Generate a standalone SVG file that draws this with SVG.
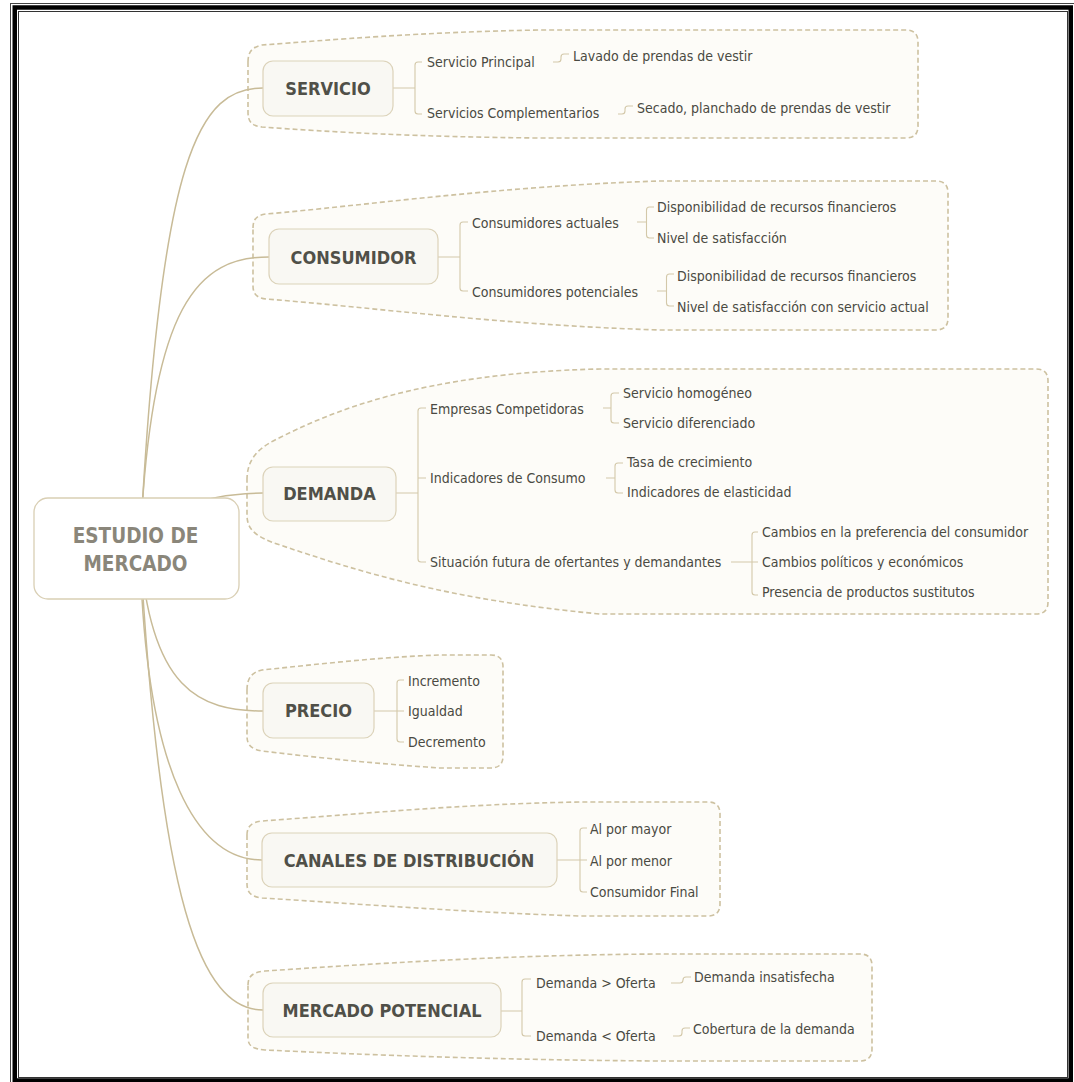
<svg xmlns="http://www.w3.org/2000/svg" width="1074" height="1082" viewBox="0 0 1074 1082">
<defs>
<style>
.bnd{fill:#fdfcf8;stroke:#cdc1a0;stroke-width:1.6;stroke-dasharray:5 3}
.cur{fill:none;stroke:#c8bb97;stroke-width:1.5}
.brk{fill:none;stroke:#d3c8a9;stroke-width:1.1}
.box{fill:#f9f8f3;stroke:#dcd3ba;stroke-width:1.2}
.ctr{fill:#ffffff;stroke:#d9cfb4;stroke-width:1.3}
.t{font-family:"DejaVu Sans Condensed","DejaVu Sans",sans-serif;font-size:14px;fill:#4a4a42}
.tb{font-family:"DejaVu Sans Condensed","DejaVu Sans",sans-serif;font-size:18px;font-weight:bold;fill:#505048;text-anchor:middle}
.tc{font-family:"DejaVu Sans Condensed","DejaVu Sans",sans-serif;font-size:20.5px;font-weight:bold;fill:#8a867a;text-anchor:middle}
</style>
</defs>
<rect width="1074" height="1082" fill="#ffffff"/>
<g id="frame" fill="none">
<rect x="10.5" y="3.5" width="1075" height="1090" stroke="#444" stroke-width="1"/>
<rect x="14.75" y="7.5" width="1056" height="1073" stroke="#000" stroke-width="4.5"/>
<rect x="18.5" y="11.5" width="1049" height="1066" stroke="#333" stroke-width="1"/>
</g>
<g id="boundaries">
<path class="bnd" d="M248,62 C248,52 252,47 262,45 C330,40 420,32 540,30 L906,30 Q918,30 918,42 L918,126 Q918,138 906,138 L540,138 C420,137 330,132 262,127 C252,126 248,122 248,112 Z"/>
<path class="bnd" d="M253,228 C253,219 257,215 266,214 C360,206 500,186 660,181 L936,181 Q948,181 948,193 L948,318 Q948,330 936,330 L660,330 C500,325 380,308 266,299 C257,298 253,294 253,286 Z"/>
<path class="bnd" d="M247,480 C247,462 255,450 275,440 C330,412 420,373 600,369 L1036,369 Q1048,369 1048,381 L1048,602 Q1048,614 1036,614 L600,614 C450,600 360,572 280,545 C256,537 247,530 247,515 Z"/>
<path class="bnd" d="M247,690 C247,678 252,672 262,670 C320,664 380,657 440,655 L491,655 Q503,655 503,667 L503,756 Q503,768 491,768 L440,768 C380,764 320,758 262,751 C252,749 247,746 247,736 Z"/>
<path class="bnd" d="M247,835 C247,826 252,822 262,821 C360,814 460,804 580,802 L708,802 Q720,802 720,814 L720,904 Q720,916 708,916 L580,916 C460,912 360,904 262,898 C252,897 247,893 247,884 Z"/>
<path class="bnd" d="M248,985 C248,976 253,972 265,971 C370,964 500,955 660,954 L860,954 Q872,954 872,966 L872,1049 Q872,1061 860,1061 L660,1061 C500,1060 370,1055 265,1050 C253,1049 248,1046 248,1038 Z"/>
</g>
<g id="connectors">
<path class="cur" d="M140,548 C160,150 200,88 263,88"/>
<path class="cur" d="M140,548 C150,300 200,257 269,257"/>
<path class="cur" d="M136,548 C160,510 200,494 263,493"/>
<path class="cur" d="M140,548 C150,690 200,711 263,711"/>
<path class="cur" d="M140,548 C145,780 200,860 262,860"/>
<path class="cur" d="M140,548 C160,900 200,1010 263,1010"/>
<path class="brk" d="M393,88 H415 M422,62 H418 Q415,62 415,65 V111 Q415,114 418,114 H422"/>
<path class="brk" d="M553,62 H558 Q561,62 561,59 V57 Q561,54 564,54 H569"/>
<path class="brk" d="M618,114 H622 Q625,114 625,111 V109 Q625,106 628,106 H633"/>
<path class="brk" d="M438,257 H460 M468,222 H463 Q460,222 460,225 V288 Q460,291 463,291 H468"/>
<path class="brk" d="M637,222 H646.5 M654,207 H649.5 Q646.5,207 646.5,210 V235 Q646.5,238 649.5,238 H654"/>
<path class="brk" d="M657,291 H666.5 M674,274 H669.5 Q666.5,274 666.5,277 V303 Q666.5,306 669.5,306 H674"/>
<path class="brk" d="M396,493 H418 M418,478 H426 M426,408 H421 Q418,408 418,411 V559 Q418,562 421,562 H426"/>
<path class="brk" d="M603,408 H611 M619,393 H614 Q611,393 611,396 V420 Q611,423 614,423 H619"/>
<path class="brk" d="M606,478 H615 M623,463 H618 Q615,463 615,466 V490 Q615,493 618,493 H623"/>
<path class="brk" d="M731,562 H758 M758,532 H755 Q752,532 752,535 V592 Q752,595 755,595 H758"/>
<path class="brk" d="M374,711 H404 M404,680 H400 Q397,680 397,683 V739 Q397,742 400,742 H404"/>
<path class="brk" d="M557,860 H587 M587,828 H583 Q580,828 580,831 V889 Q580,892 583,892 H587"/>
<path class="brk" d="M501,1011 H522 M531,979 H525 Q522,979 522,982 V1033 Q522,1036 525,1036 H531"/>
<path class="brk" d="M671,983 H680 Q683,983 683,980 Q683,977 686,977 H691"/>
<path class="brk" d="M673,1036 H679 Q682,1036 682,1033 V1031 Q682,1028 685,1028 H690"/>
</g>
<g id="central">
<rect class="ctr" x="34" y="498" width="205" height="101" rx="14"/>
<text class="tc" x="135.5" y="542.5">ESTUDIO DE</text>
<text class="tc" x="135.5" y="570.5">MERCADO</text>
</g>
<g id="servicio">
<rect class="box" x="263" y="61" width="130" height="55" rx="10"/>
<text class="tb" x="328" y="95">SERVICIO</text>
<text class="t" x="427" y="67">Servicio Principal</text>
<text class="t" x="573" y="61">Lavado de prendas de vestir</text>
<text class="t" x="427" y="118">Servicios Complementarios</text>
<text class="t" x="637" y="113">Secado, planchado de prendas de vestir</text>
</g>
<g id="consumidor">
<rect class="box" x="269" y="229" width="169" height="55" rx="10"/>
<text class="tb" x="353.5" y="264">CONSUMIDOR</text>
<text class="t" x="472" y="227.5">Consumidores actuales</text>
<text class="t" x="657" y="212">Disponibilidad de recursos financieros</text>
<text class="t" x="657" y="243">Nivel de satisfacción</text>
<text class="t" x="472" y="296.5">Consumidores potenciales</text>
<text class="t" x="677" y="281">Disponibilidad de recursos financieros</text>
<text class="t" x="677" y="311.5">Nivel de satisfacción con servicio actual</text>
</g>
<g id="demanda">
<rect class="box" x="263" y="467" width="133" height="54" rx="10"/>
<text class="tb" x="329.5" y="500">DEMANDA</text>
<text class="t" x="430" y="414">Empresas Competidoras</text>
<text class="t" x="623" y="398">Servicio homogéneo</text>
<text class="t" x="623" y="428">Servicio diferenciado</text>
<text class="t" x="430" y="483">Indicadores de Consumo</text>
<text class="t" x="627" y="467">Tasa de crecimiento</text>
<text class="t" x="627" y="497">Indicadores de elasticidad</text>
<text class="t" x="430" y="567">Situación futura de ofertantes y demandantes</text>
<text class="t" x="762" y="537">Cambios en la preferencia del consumidor</text>
<text class="t" x="762" y="567">Cambios políticos y económicos</text>
<text class="t" x="762" y="597">Presencia de productos sustitutos</text>
</g>
<g id="precio">
<rect class="box" x="263" y="683" width="111" height="55" rx="10"/>
<text class="tb" x="318.5" y="717">PRECIO</text>
<text class="t" x="408" y="685.5">Incremento</text>
<text class="t" x="408" y="716">Igualdad</text>
<text class="t" x="408" y="746.5">Decremento</text>
</g>
<g id="canales">
<rect class="box" x="262" y="833" width="295" height="54" rx="10"/>
<text class="tb" x="409" y="867">CANALES DE DISTRIBUCIÓN</text>
<text class="t" x="590" y="834">Al por mayor</text>
<text class="t" x="590" y="866">Al por menor</text>
<text class="t" x="590" y="897">Consumidor Final</text>
</g>
<g id="mercado-potencial">
<rect class="box" x="263" y="983" width="238" height="54" rx="10"/>
<text class="tb" x="382" y="1017">MERCADO POTENCIAL</text>
<text class="t" x="536" y="988">Demanda &gt; Oferta</text>
<text class="t" x="694" y="982">Demanda insatisfecha</text>
<text class="t" x="536" y="1041">Demanda &lt; Oferta</text>
<text class="t" x="693" y="1034">Cobertura de la demanda</text>
</g>
</svg>
